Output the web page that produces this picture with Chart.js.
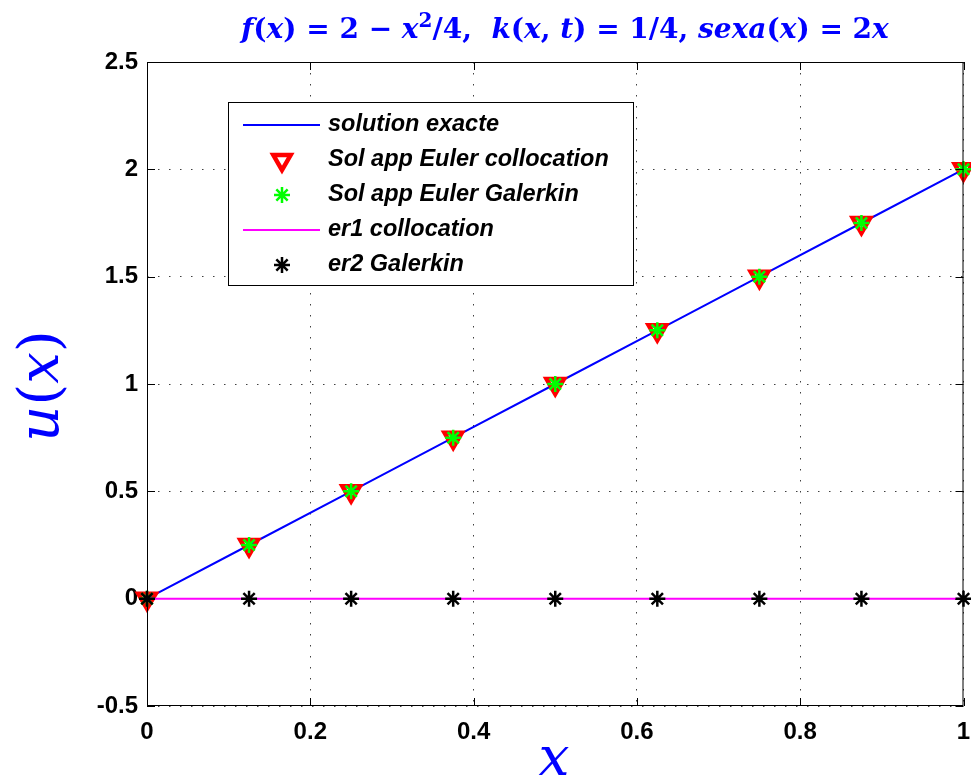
<!DOCTYPE html>
<html>
<head>
<meta charset="utf-8">
<script src="https://cdn.jsdelivr.net/npm/chart.js@4.4.0/dist/chart.umd.min.js"></script>
<style>
  html, body { margin: 0; padding: 0; background: #fff; overflow: hidden; }
  /* a little wider than the window: chart.js keeps room right of the last x label */
  #wrap { width: 978px; height: 780px; position: relative; }
</style>
</head>
<body>
<div id="wrap"><canvas id="chart"></canvas></div>
<script>
// data
const xs          = [0, 0.125, 0.25, 0.375, 0.5, 0.625, 0.75, 0.875, 1];
const exact       = [0, 0.25, 0.5, 0.75, 1, 1.25, 1.5, 1.75, 2];
const collocation = [0, 0.25, 0.5, 0.75, 1, 1.25, 1.5, 1.75, 2];
const galerkin    = [0, 0.25, 0.5, 0.75, 1, 1.25, 1.5, 1.75, 2];
const er1         = [0, 0, 0, 0, 0, 0, 0, 0, 0];
const er2         = [0, 0, 0, 0, 0, 0, 0, 0, 0];

const xTicks = [0, 0.2, 0.4, 0.6, 0.8, 1];
const xTickLabels = ['0', '0.2', '0.4', '0.6', '0.8', '1'];
const yTicks = [-0.5, 0, 0.5, 1, 1.5, 2, 2.5];
const yTickLabels = ['-0.5', '0', '0.5', '1', '1.5', '2', '2.5'];

const seriesLabels = ['solution exacte', 'Sol app Euler collocation', 'Sol app Euler Galerkin',
                      'er1 collocation', 'er2 Galerkin'];

const pts = arr => xs.map((x, i) => ({x: x, y: arr[i]}));

const BLUE = '#0000ff';
const tickFont = {family: 'Liberation Sans, Arial, sans-serif', size: 24, weight: 'bold'};

// draws a math-like string made of pieces [text, kind]; kind: i=italic, r=roman, s=superscript
function drawMath(ctx, parts, cx, cy, size, weight) {
  const fam = '"DejaVu Serif", "Liberation Serif", serif';
  const wt = weight || 'normal';
  const fontOf = k => k === 'i' ? `italic ${wt} ${size}px ${fam}` :
                      k === 's' ? `${wt} ${Math.round(size * 0.7)}px ${fam}` : `${wt} ${size}px ${fam}`;
  let w = 0;
  parts.forEach(p => { ctx.font = fontOf(p[1]); w += ctx.measureText(p[0]).width; });
  let x = cx - w / 2;
  ctx.textBaseline = 'alphabetic';
  ctx.textAlign = 'left';
  parts.forEach(p => {
    ctx.font = fontOf(p[1]);
    ctx.fillText(p[0], x, p[1] === 's' ? cy - size * 0.4 : cy);
    x += ctx.measureText(p[0]).width;
  });
}

// marker for the legend (same shapes as the chart points)
function legendMarker(ctx, ds, x, y) {
  const r = ds.pointRadius;
  ctx.beginPath();
  if (ds.pointStyle === 'triangle') {
    for (let k = 0; k < 3; k++) {
      const ang = Math.PI + k * 2 * Math.PI / 3;
      const px = x + Math.sin(ang) * r, py = y - Math.cos(ang) * r;
      if (k === 0) ctx.moveTo(px, py); else ctx.lineTo(px, py);
    }
    ctx.closePath();
  } else {
    for (let k = 0; k < 4; k++) {
      const ang = k * Math.PI / 4;
      ctx.moveTo(x - Math.cos(ang) * r, y - Math.sin(ang) * r);
      ctx.lineTo(x + Math.cos(ang) * r, y + Math.sin(ang) * r);
    }
  }
  ctx.stroke();
}

const decorPlugin = {
  id: 'decor',
  afterDraw(chart) {
    const ctx = chart.ctx;
    const a = chart.chartArea;
    const sx = chart.scales.x, sy = chart.scales.y;
    ctx.save();

    // box and inward ticks
    ctx.strokeStyle = '#000';
    ctx.lineWidth = 1;
    ctx.strokeRect(a.left + 0.5, a.top + 0.5, a.right - a.left - 1, a.bottom - a.top - 1);
    const tl = 8;
    ctx.beginPath();
    xTicks.forEach(v => {
      const px = Math.round(sx.getPixelForValue(v)) + 0.5;
      ctx.moveTo(px, a.bottom); ctx.lineTo(px, a.bottom - tl);
      ctx.moveTo(px, a.top); ctx.lineTo(px, a.top + tl);
    });
    yTicks.forEach(v => {
      const py = Math.round(sy.getPixelForValue(v)) + 0.5;
      ctx.moveTo(a.left, py); ctx.lineTo(a.left + tl, py);
      ctx.moveTo(a.right, py); ctx.lineTo(a.right - tl, py);
    });
    ctx.stroke();

    // legend box
    const lx = 228, ly = 102, lw = 405, lh = 183;
    ctx.fillStyle = '#fff';
    ctx.fillRect(lx, ly, lw, lh);
    ctx.strokeRect(lx + 0.5, ly + 0.5, lw, lh);
    ctx.font = 'italic bold 23.5px "Liberation Sans", Arial, sans-serif';
    ctx.textBaseline = 'middle';
    ctx.textAlign = 'left';
    chart.data.datasets.forEach((ds, i) => {
      const y = 125 + i * 35;
      ctx.strokeStyle = ds.borderColor;
      if (ds.showLine) {
        ctx.lineWidth = ds.borderWidth;
        ctx.beginPath();
        ctx.moveTo(243, y); ctx.lineTo(320, y);
        ctx.stroke();
      } else {
        ctx.lineWidth = ds.pointBorderWidth;
        legendMarker(ctx, ds, 282, y);
      }
      ctx.fillStyle = '#000';
      ctx.fillText(ds.label, 328, y);
    });

    // title and axis titles
    ctx.fillStyle = BLUE;
    drawMath(ctx, [
      ['f', 'i'], ['(', 'r'], ['x', 'i'], [') = 2 \u2212 ', 'r'], ['x', 'i'], ['2', 's'], ['/4,  ', 'r'],
      ['k', 'i'], ['(', 'r'], ['x', 'i'], [', ', 'r'], ['t', 'i'], [') = 1/4, ', 'r'],
      ['sexa', 'i'], ['(', 'r'], ['x', 'i'], [') = 2', 'r'], ['x', 'i']
    ], 565, 38, 28, 'bold');
    drawMath(ctx, [['x', 'i']], 554, 775, 55);
    ctx.save();
    ctx.translate(58, 386);
    ctx.rotate(-Math.PI / 2);
    drawMath(ctx, [['u', 'i'], ['(', 'r'], ['x', 'i'], [')', 'r']], 0, 0, 56);
    ctx.restore();

    ctx.restore();
  }
};

new Chart(document.getElementById('chart'), {
  type: 'scatter',
  data: {
    datasets: [
      { label: seriesLabels[0], data: pts(exact), showLine: true, borderColor: BLUE,
        borderWidth: 2, pointRadius: 0, order: 5 },
      { label: seriesLabels[1], data: pts(collocation), showLine: false, borderColor: '#ff0000',
        backgroundColor: 'rgba(0,0,0,0)', pointStyle: 'triangle', pointRotation: 180,
        pointRadius: 10, pointBorderWidth: 4.5, pointBorderColor: '#ff0000', order: 4, clip: false },
      { label: seriesLabels[2], data: pts(galerkin), showLine: false, borderColor: '#00ff00',
        pointStyle: 'star', pointRadius: 8, pointBorderWidth: 2.5, pointBorderColor: '#00ff00',
        order: 3, clip: false },
      { label: seriesLabels[3], data: pts(er1), showLine: true, borderColor: '#ff00ff',
        borderWidth: 2, pointRadius: 0, order: 2 },
      { label: seriesLabels[4], data: pts(er2), showLine: false, borderColor: '#000000',
        pointStyle: 'star', pointRadius: 8, pointBorderWidth: 2.5, pointBorderColor: '#000000',
        order: 1, clip: false }
    ]
  },
  options: {
    responsive: true,
    maintainAspectRatio: false,
    animation: false,
    layout: { padding: { top: 62, right: 3, left: 0, bottom: 0 } },
    plugins: { legend: { display: false }, tooltip: { enabled: false } },
    scales: {
      x: {
        type: 'linear', min: 0, max: 1,
        afterBuildTicks: s => { s.ticks = xTicks.map(v => ({value: v})); },
        afterFit: s => { s.height = 74; s.paddingLeft = 0; s.paddingRight = 0; },
        ticks: { color: '#000', font: tickFont, padding: 12, maxRotation: 0,
                 callback: (v) => xTickLabels[xTicks.indexOf(v)] },
        grid: { color: '#404040', lineWidth: 1, drawTicks: false },
        border: { display: false, dash: [1.5, 9.5] }
      },
      y: {
        type: 'linear', min: -0.5, max: 2.5,
        afterBuildTicks: s => { s.ticks = yTicks.map(v => ({value: v})); },
        afterFit: s => { s.width = 147; s.paddingTop = 0; s.paddingBottom = 0; },
        ticks: { color: '#000', font: tickFont, padding: 9,
                 callback: (v) => yTickLabels[yTicks.indexOf(v)] },
        grid: { color: '#404040', lineWidth: 1, drawTicks: false },
        border: { display: false, dash: [1.5, 9.5] }
      }
    }
  },
  plugins: [decorPlugin]
});
</script>
</body>
</html>
